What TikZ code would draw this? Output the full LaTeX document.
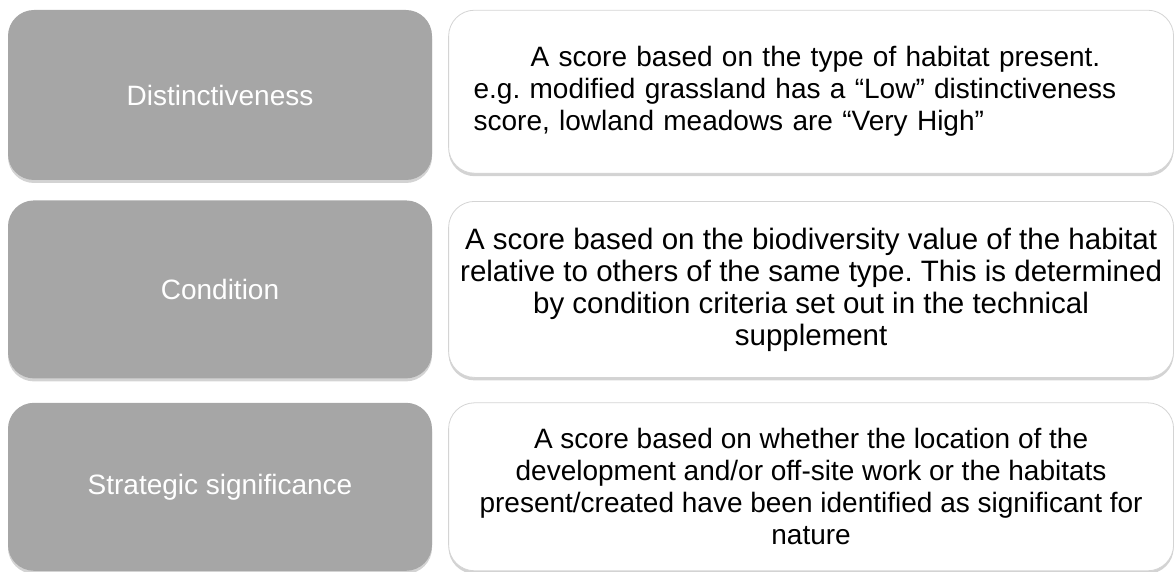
\documentclass[tikz,border=0pt]{standalone}
\usepackage{fontspec}
\setmainfont{Liberation Sans}
\usetikzlibrary{shadows}
\usetikzlibrary{positioning}
\usepackage{xcolor}
\definecolor{critgray}{HTML}{A6A6A6}
\definecolor{descline}{HTML}{D4D4D4}

\begin{document}
\frenchspacing
\begin{tikzpicture}[x=1pt, y=1pt,
  crit/.style={rectangle, rounded corners=26pt, fill=critgray, text=white,
    minimum width=424pt, align=center, font=\fontsize{28}{32}\selectfont,
    drop shadow={opacity=0.35, shadow xshift=0pt, shadow yshift=-3pt}},
  desc/.style={rectangle, rounded corners=26pt, fill=white, draw=descline, line width=0.8pt,
    minimum width=725pt, align=center, font=\fontsize{28}{32}\selectfont,
    drop shadow={opacity=0.35, shadow xshift=0pt, shadow yshift=-3pt}}]
  \useasboundingbox (0,0) rectangle (1174,-572);

  % Left: the three criteria (vertical)
  \node[crit, minimum height=170pt] at (220,-95) (dist) {Distinctiveness};
  \node[crit, minimum height=178pt, below=20pt of dist] (cond) {Condition};
  \node[crit, minimum height=168pt, below=24pt of cond] (strat) {Strategic significance};

  % Right: what each score is based on
  \node[desc, minimum height=163pt, right=16pt of dist.north east, anchor=north west,
    align=left, text width=675pt] (distd)
    {\hspace*{57pt}A score based on the type of habitat present.\\
     e.g. modified grassland has a “Low” distinctiveness\\
     score, lowland meadows are “Very High”};
  \node[desc, minimum height=176pt, right=16pt of cond, font=\fontsize{29.5}{32}\selectfont] (condd)
    {A score based on the biodiversity value of the habitat\\
     relative to others of the same type. This is determined\\
     by condition criteria set out in the technical\\
     supplement};
  \node[desc, minimum height=168pt, right=16pt of strat] (stratd)
    {A score based on whether the location of the\\
     development and/or off-site work or the habitats\\
     present/created have been identified as significant for\\
     nature};
\end{tikzpicture}
\end{document}
